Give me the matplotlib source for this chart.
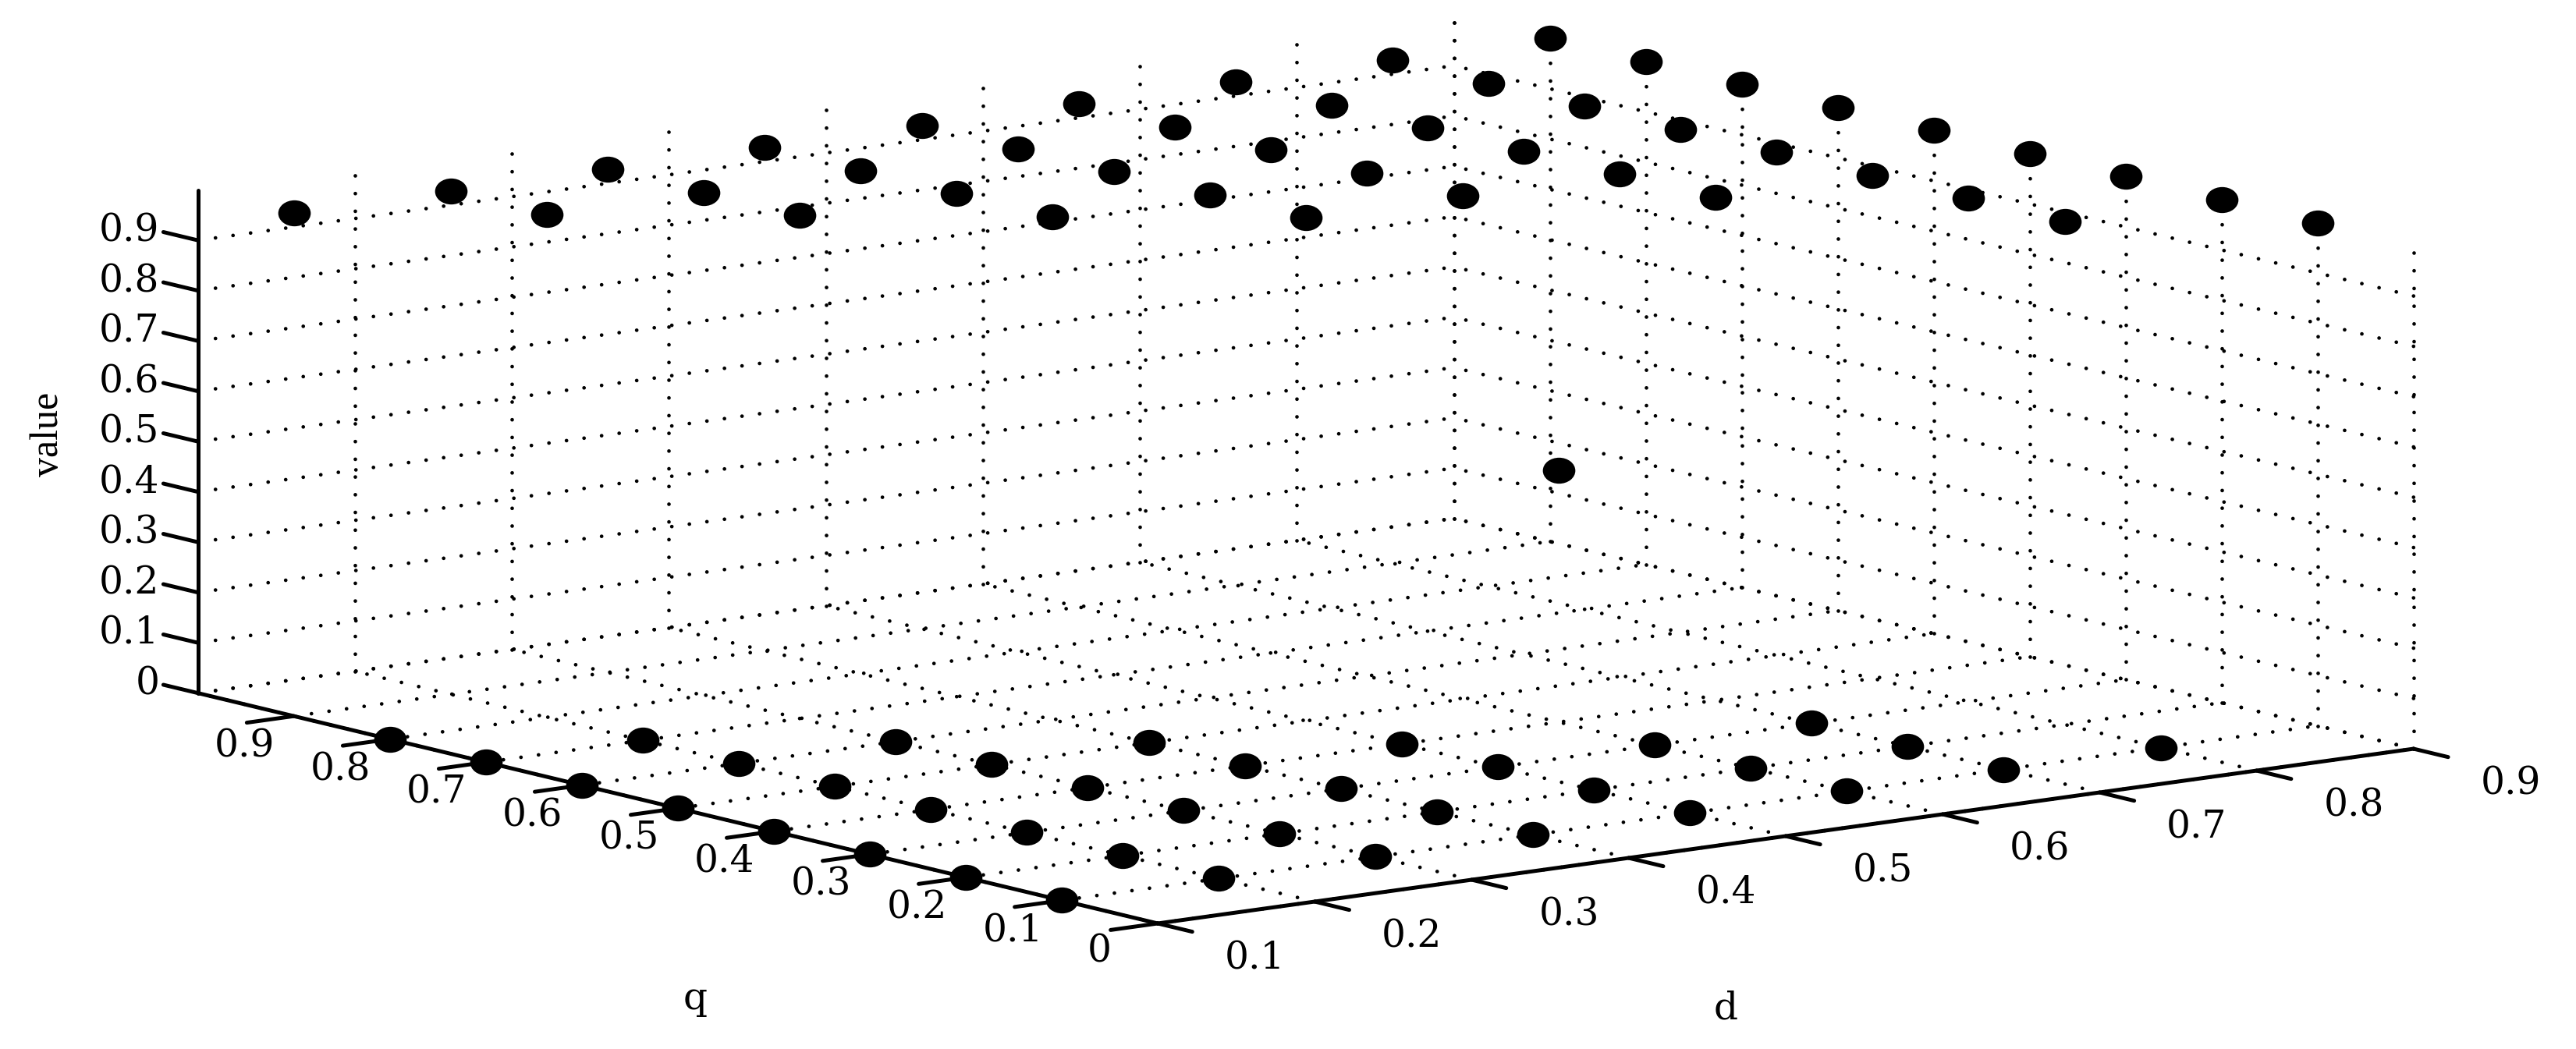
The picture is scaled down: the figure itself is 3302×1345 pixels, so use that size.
#!/usr/bin/env python3

import matplotlib

matplotlib.use("Agg")

import matplotlib.pyplot as plt
from matplotlib.path import Path
from matplotlib.transforms import Affine2D
from mpl_toolkits.mplot3d import proj3d

# points, listed column by column in d
d_high = [0.1, 0.2, 0.2, 0.3, 0.3, 0.3, 0.4, 0.4, 0.4, 0.4,
          0.5, 0.5, 0.5, 0.5, 0.5, 0.6, 0.6, 0.6, 0.6, 0.6,
          0.7, 0.7, 0.7, 0.7, 0.7, 0.7,
          0.8, 0.8, 0.8, 0.8, 0.8, 0.8, 0.8, 0.8,
          0.9, 0.9, 0.9, 0.9, 0.9, 0.9, 0.9, 0.9, 0.9]
q_high = [0.9, 0.9, 0.8, 0.9, 0.8, 0.7, 0.9, 0.8, 0.7, 0.6,
          0.9, 0.8, 0.7, 0.6, 0.5, 0.9, 0.8, 0.7, 0.6, 0.5,
          0.9, 0.8, 0.7, 0.6, 0.5, 0.4,
          0.9, 0.8, 0.7, 0.6, 0.5, 0.4, 0.3, 0.2,
          0.9, 0.8, 0.7, 0.6, 0.5, 0.4, 0.3, 0.2, 0.1]
value_high = [1.0] * len(d_high)

d_low = [0.1, 0.1, 0.1, 0.1, 0.1, 0.1, 0.1, 0.1,
         0.2, 0.2, 0.2, 0.2, 0.2, 0.2, 0.2,
         0.3, 0.3, 0.3, 0.3, 0.3, 0.3,
         0.4, 0.4, 0.4, 0.4, 0.4,
         0.5, 0.5, 0.5, 0.5,
         0.6, 0.6, 0.6,
         0.7, 0.7, 0.7,
         0.8]
q_low = [0.1, 0.2, 0.3, 0.4, 0.5, 0.6, 0.7, 0.8,
         0.1, 0.2, 0.3, 0.4, 0.5, 0.6, 0.7,
         0.1, 0.2, 0.3, 0.4, 0.5, 0.6,
         0.1, 0.2, 0.3, 0.4, 0.5,
         0.1, 0.2, 0.3, 0.4,
         0.1, 0.2, 0.3,
         0.1, 0.2, 0.3,
         0.1]
value_low = [0.0] * len(d_low)

d_mid = [0.6]
q_mid = [0.4]
value_mid = [0.5]

d_ticks = [0.1, 0.2, 0.3, 0.4, 0.5, 0.6, 0.7, 0.8, 0.9]
q_ticks = [0.0, 0.1, 0.2, 0.3, 0.4, 0.5, 0.6, 0.7, 0.8, 0.9]
value_ticks = [0.0, 0.1, 0.2, 0.3, 0.4, 0.5, 0.6, 0.7, 0.8, 0.9]
d_labels = ["0.1", "0.2", "0.3", "0.4", "0.5", "0.6", "0.7", "0.8", "0.9"]
q_labels = ["0", "0.1", "0.2", "0.3", "0.4", "0.5", "0.6", "0.7", "0.8", "0.9"]
value_labels = ["0", "0.1", "0.2", "0.3", "0.4", "0.5", "0.6", "0.7", "0.8", "0.9"]

W, H = 3302, 1345
TICK_FONT = "DejaVu Serif"
TICK_SIZE = 35
LABEL_FONT = "Liberation Serif"
DOTS = (0, (0.01, 4.8))


def label(ax, d, q, v, text, ha="center"):
    # text placed in the 2D plane at the projected 3D spot
    x, y, _ = proj3d.proj_transform(d, q, v, ax.get_proj())
    ax.text2D(x, y, text, transform=ax.transData, family=TICK_FONT, fontsize=TICK_SIZE,
              color="black", ha=ha, va="center")


def main() -> None:
    fig = plt.figure(figsize=(W / 100, H / 100), dpi=100, facecolor="white")
    ax = fig.add_axes([0.0, 0.0, H / W, 1.0], projection="3d", proj_type="ortho")
    ax.view_init(elev=10.53, azim=-127.28)
    ax.set_xlim(0.1, 0.9, view_margin=0)
    ax.set_ylim(0.0, 1.0, view_margin=0)
    ax.set_zlim(0.0, 1.0, view_margin=0)
    ax.set_box_aspect((2023, 2031, 656), zoom=2855 / H)
    ax.set_axis_off()
    ax.computed_zorder = False

    # walls and floor
    grid = dict(color="black", lw=3.4, ls=DOTS, dash_capstyle="round", clip_on=False)
    for d in d_ticks:
        ax.plot([d, d], [0, 1], [0, 0], **grid)
        ax.plot([d, d], [1, 1], [0, 1], **grid)
    for q in q_ticks + [1.0]:
        ax.plot([0.1, 0.9], [q, q], [0, 0], **grid)
        ax.plot([0.9, 0.9], [q, q], [0, 1], **grid)
    for v in value_ticks:
        ax.plot([0.1, 0.9], [1, 1], [v, v], **grid)
        ax.plot([0.9, 0.9], [0, 1], [v, v], **grid)

    # axis lines and ticks
    axis = dict(color="black", lw=3.6, solid_capstyle="round", clip_on=False)
    ax.plot([0.1, 0.9], [0, 0], [0, 0], **axis)
    ax.plot([0.1, 0.1], [0, 1], [0, 0], **axis)
    ax.plot([0.1, 0.1], [1, 1], [0, 1], **axis)
    for d in d_ticks:
        ax.plot([d, d], [0, -0.036], [0, 0], **axis)
    for q in q_ticks:
        ax.plot([0.1, 0.07], [q, q], [0, 0], **axis)
    for v in value_ticks:
        ax.plot([0.1, 0.1], [1, 1.036], [v, v], **axis)

    for d, text in zip(d_ticks, d_labels):
        label(ax, d - 0.02, -0.134, 0, text)
    for q, text in zip(q_ticks, q_labels):
        label(ax, 0.029, q - (0.065 if q else 0.055), 0, text)
    for v, text in zip(value_ticks, value_labels):
        label(ax, 0.1, 1.04, v, text, ha="right")

    blob = Path.unit_circle().transformed(Affine2D().scale(1.25, 1.0))
    marks = dict(ls="none", marker=blob, markersize=30, markerfacecolor="black", markeredgewidth=0, clip_on=False)
    ax.plot(d_high, q_high, value_high, **marks)
    ax.plot(d_low, q_low, value_low, **marks)
    ax.plot(d_mid, q_mid, value_mid, **marks)

    fig.text(891 / W, 1 - 1281 / H, "q", family=TICK_FONT, fontsize=TICK_SIZE, ha="center", va="center")
    fig.text(2212 / W, 1 - 1293 / H, "d", family=TICK_FONT, fontsize=TICK_SIZE, ha="center", va="center")
    fig.text(62 / W, 1 - 557 / H, "value", family=LABEL_FONT, fontsize=36, rotation=90, ha="center", va="center")

    # slide the axes so the d/q corner lands where it does in the reference
    fig.canvas.draw()
    x, y, _ = proj3d.proj_transform(0.1, 0.0, 0.0, ax.get_proj())
    px, py = ax.transData.transform((x, y))
    pos = ax.get_position()
    ax.set_position([pos.x0 + (1484 - px) / W, pos.y0 + (H - 1184 - py) / H, pos.width, pos.height])

    fig.savefig("out.png", dpi=100)
    plt.close(fig)


if __name__ == "__main__":
    main()
